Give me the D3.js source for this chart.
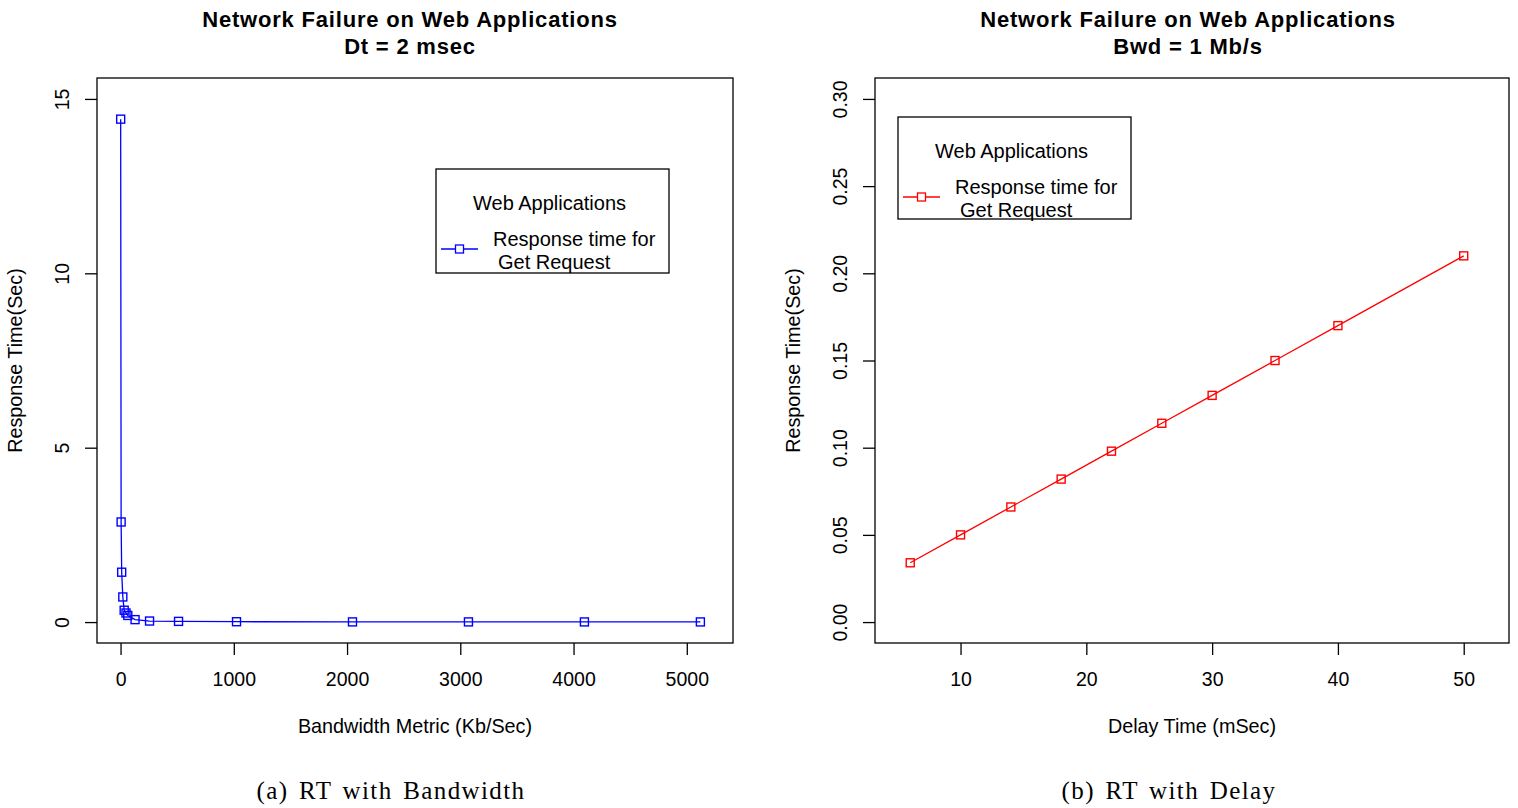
<!DOCTYPE html>
<html>
<head>
<meta charset="utf-8">
<script src="https://cdn.jsdelivr.net/npm/d3@7"></script>
<style>
  html, body { margin: 0; padding: 0; background: #fff; }
  svg { display: block; }
  text { font-family: "Liberation Sans", Arial, sans-serif; fill: #000; }
</style>
</head>
<body>
<svg id="chart" width="1518" height="808"></svg>
<script>
// ---- Data ----
const bandwidthKbps = [1, 5, 10, 20, 32, 48, 64, 128, 256, 512, 1024, 2048, 3072, 4096, 5120];
const responseBandwidth = [14.42, 2.87, 1.43, 0.72, 0.34, 0.26, 0.19, 0.07, 0.03, 0.02, 0.01, 0.005, 0.005, 0.004, 0.004];

const delayMsec = [6, 10, 14, 18, 22, 26, 30, 35, 40, 50];
const responseDelay = [0.034, 0.050, 0.066, 0.082, 0.098, 0.114, 0.130, 0.150, 0.170, 0.210];

const leftXTicks = [0, 1000, 2000, 3000, 4000, 5000];
const leftYTicks = [0, 5, 10, 15];
const rightXTicks = [10, 20, 30, 40, 50];
const rightYTicks = [0, 0.05, 0.10, 0.15, 0.20, 0.25, 0.30];

const titleLine1 = "Network Failure on Web Applications";
const leftTitleLine2 = "Dt = 2 msec";
const rightTitleLine2 = "Bwd = 1 Mb/s";
const leftXLabel = "Bandwidth Metric (Kb/Sec)";
const rightXLabel = "Delay Time (mSec)";
const yLabel = "Response Time(Sec)";
const legendTitle = "Web Applications";
const legendLines = ["Response time for", "Get Request"];
const captions = ["(a) RT with Bandwidth", "(b) RT with Delay"];

const svg = d3.select("#chart");
const SANS = '"Liberation Sans", Arial, sans-serif';

function panel(cfg) {
  const g = svg.append("g");
  const x = d3.scaleLinear().domain(cfg.xDomain).range([cfg.left, cfg.right]);
  const y = d3.scaleLinear().domain(cfg.yDomain).range([cfg.bottom, cfg.top]);

  // plot frame
  g.append("rect")
    .attr("x", cfg.left).attr("y", cfg.top)
    .attr("width", cfg.right - cfg.left).attr("height", cfg.bottom - cfg.top)
    .attr("fill", "none").attr("stroke", "#000").attr("stroke-width", 1.3);

  // x axis
  const xa = g.append("g")
    .attr("transform", `translate(0,${cfg.bottom})`)
    .call(d3.axisBottom(x).tickValues(cfg.xTicks).tickSize(12).tickPadding(17).tickFormat(cfg.xFmt));
  xa.select(".domain").remove();
  xa.selectAll(".tick line").attr("stroke", "#000").attr("stroke-width", 1.3);
  xa.selectAll(".tick text")
    .style("font-family", SANS)
    .attr("font-size", 19.5).attr("fill", "#000");

  // y axis (labels rotated, parallel to the axis)
  const ya = g.append("g")
    .attr("transform", `translate(${cfg.left},0)`)
    .call(d3.axisLeft(y).tickValues(cfg.yTicks).tickSize(12).tickFormat(cfg.yFmt));
  ya.select(".domain").remove();
  ya.selectAll(".tick line").attr("stroke", "#000").attr("stroke-width", 1.3);
  ya.selectAll(".tick text")
    .style("font-family", SANS)
    .attr("font-size", 19.5).attr("fill", "#000")
    .attr("x", null).attr("dy", null)
    .attr("text-anchor", "middle")
    .attr("dominant-baseline", "central")
    .attr("transform", `translate(${-cfg.yLabelOff},0) rotate(-90)`);

  // titles
  const cx = (cfg.left + cfg.right) / 2;
  g.append("text").attr("x", cx + cfg.titleDx).attr("y", 27).attr("text-anchor", "middle")
    .attr("font-size", 22).attr("font-weight", "bold").attr("letter-spacing", 0.8).text(titleLine1);
  g.append("text").attr("x", cx + cfg.titleDx).attr("y", 54).attr("text-anchor", "middle")
    .attr("font-size", 22).attr("font-weight", "bold").attr("letter-spacing", 0.8).text(cfg.title2);

  // axis labels
  g.append("text").attr("x", cx).attr("y", 733).attr("text-anchor", "middle")
    .attr("font-size", 19.8).text(cfg.xLabel);
  g.append("text")
    .attr("transform", `translate(${cfg.yTitleX},${(cfg.top + cfg.bottom) / 2}) rotate(-90)`)
    .attr("text-anchor", "middle").attr("dominant-baseline", "central")
    .attr("font-size", 19.8).text(yLabel);

  // series
  const line = d3.line().x(d => x(d[0])).y(d => y(d[1]));
  const pts = cfg.xs.map((v, i) => [v, cfg.ys[i]]);
  g.append("path").datum(pts).attr("d", line)
    .attr("fill", "none").attr("stroke", cfg.color).attr("stroke-width", 1.3);
  const ms = cfg.markerSize;
  g.selectAll("rect.pt").data(pts).enter().append("rect")
    .attr("class", "pt")
    .attr("x", d => x(d[0]) - ms / 2).attr("y", d => y(d[1]) - ms / 2)
    .attr("width", ms).attr("height", ms)
    .attr("fill", "none").attr("stroke", cfg.color).attr("stroke-width", 1.4);

  // legend
  const L = cfg.legend;
  g.append("rect").attr("x", L.x).attr("y", L.y).attr("width", L.w).attr("height", L.h)
    .attr("fill", "#fff").attr("stroke", "#000").attr("stroke-width", 1.3);
  g.append("text").attr("x", L.x + 37).attr("y", L.y + 41)
    .attr("font-size", 20).text(legendTitle);
  const ly = L.y + 80;
  g.append("line").attr("x1", L.x + 5).attr("x2", L.x + 42).attr("y1", ly).attr("y2", ly)
    .attr("stroke", cfg.color).attr("stroke-width", 1.3);
  g.append("rect").attr("x", L.x + 23.5 - 4).attr("y", ly - 4).attr("width", 8).attr("height", 8)
    .attr("fill", "#fff").attr("stroke", cfg.color).attr("stroke-width", 1.3);
  g.append("text").attr("x", L.x + 57).attr("y", L.y + 77).attr("font-size", 20).text(legendLines[0]);
  g.append("text").attr("x", L.x + 62).attr("y", L.y + 100).attr("font-size", 20).text(legendLines[1]);

  // caption
  g.append("text").attr("x", cfg.capX).attr("y", 799).attr("text-anchor", "middle")
    .style("font-family", '"Liberation Serif", "DejaVu Serif", serif')
    .attr("font-size", 25).attr("letter-spacing", 1.4).attr("word-spacing", 3).text(cfg.caption);
}

panel({
  left: 97, right: 733, top: 78, bottom: 643,
  xDomain: [-208, 5408], yDomain: [-0.6, 15.6],
  xTicks: leftXTicks, yTicks: leftYTicks,
  xFmt: d3.format("d"), yFmt: d3.format("d"),
  yLabelOff: 35, yTitleX: 15, titleDx: -5,
  title2: leftTitleLine2, xLabel: leftXLabel,
  xs: bandwidthKbps, ys: responseBandwidth, color: "#0000ff", markerSize: 8,
  legend: { x: 436, y: 169, w: 233, h: 104 },
  caption: captions[0], capX: 391
});

panel({
  left: 875, right: 1509, top: 78, bottom: 643,
  xDomain: [3.2, 53.6], yDomain: [-0.012, 0.312],
  xTicks: rightXTicks, yTicks: rightYTicks,
  xFmt: d3.format("d"), yFmt: d3.format(".2f"),
  yLabelOff: 35, yTitleX: 793, titleDx: -4,
  title2: rightTitleLine2, xLabel: rightXLabel,
  xs: delayMsec, ys: responseDelay, color: "#ff0000", markerSize: 8,
  legend: { x: 898, y: 117, w: 233, h: 102 },
  caption: captions[1], capX: 1169
});
</script>
</body>
</html>
